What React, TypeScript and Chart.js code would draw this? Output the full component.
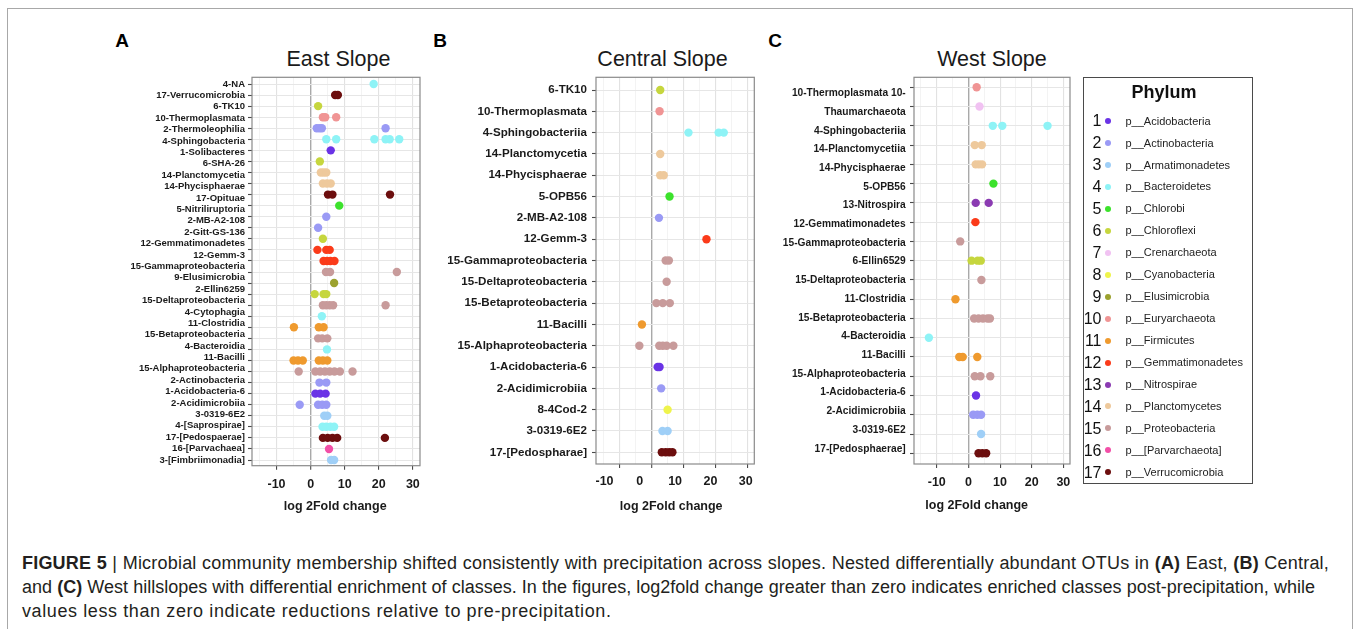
import React, { useEffect, useRef } from "react";
import { Chart, registerables } from "chart.js";

Chart.register(...registerables);

const FONT = '"Liberation Sans", Arial, Helvetica, sans-serif';
Chart.defaults.font.family = FONT;

// ---------------- DATA ----------------
const phylumNames = [
  "p__Acidobacteria", "p__Actinobacteria", "p__Armatimonadetes", "p__Bacteroidetes",
  "p__Chlorobi", "p__Chloroflexi", "p__Crenarchaeota", "p__Cyanobacteria",
  "p__Elusimicrobia", "p__Euryarchaeota", "p__Firmicutes", "p__Gemmatimonadetes",
  "p__Nitrospirae", "p__Planctomycetes", "p__Proteobacteria", "p__[Parvarchaeota]",
  "p__Verrucomicrobia",
];
const phylumColors = [
  "#6a33e6", "#9a9af5", "#9fcff7", "#8ef3f6", "#3ce22c", "#c6d63e", "#f1c2f2",
  "#eff44c", "#9ca22f", "#f09494", "#ef9a2e", "#fb3b1a", "#8b3bb2", "#eec99c",
  "#c89b9b", "#f24fa7", "#6c0e0e",
];

const xTickLabels = [-10, 0, 10, 20, 30];
const xGridValues = [-15, -10, -5, 0, 5, 10, 15, 20, 25, 30];

// East slope: 34 printed labels, 35 dot rows (one row has no printed label)
const eastLabels = [
  "4-NA", "17-Verrucomicrobia", "6-TK10", "10-Thermoplasmata", "2-Thermoleophilia",
  "4-Sphingobacteria", "1-Solibacteres", "6-SHA-26", "14-Planctomycetia", "14-Phycisphaerae",
  "17-Opituae", "5-Nitriliruptoria", "2-MB-A2-108", "2-Gitt-GS-136", "12-Gemmatimonadetes",
  "12-Gemm-3", "15-Gammaproteobacteria", "9-Elusimicrobia", "2-Ellin6259", "15-Deltaproteobacteria",
  "4-Cytophagia", "11-Clostridia", "15-Betaproteobacteria", "4-Bacteroidia", "11-Bacilli",
  "15-Alphaproteobacteria", "2-Actinobacteria", "1-Acidobacteria-6", "2-Acidimicrobiia", "3-0319-6E2",
  "4-[Saprospirae]", "17-[Pedospaerae]", "16-[Parvachaea]", "3-[Fimbriimonadia]",
];
const eastRowPhylum = [
  4, 17, 6, 10, 2, 4, 1, 6, 14, 14, 17, 5, 2, 2, 6, 12, 12, 15, 9, 6,
  15, 4, 11, 15, 4, 11, 15, 2, 1, 2, 3, 4, 17, 16, 3,
];
const eastRowValues = [
  [18.5], [7.2, 8.0], [2.2], [3.6, 4.3, 7.5], [1.8, 2.6, 3.3, 22.0],
  [4.6, 7.5, 18.7, 22.0, 23.2, 26.0], [5.9], [2.7], [3.0, 3.8, 4.6], [3.6, 4.8, 5.9],
  [5.1, 6.4, 23.3], [8.4], [4.6], [2.2], [3.6],
  [2.0, 4.6, 5.6], [3.8, 4.8, 5.8, 7.0], [4.5, 5.7, 25.3], [6.9], [1.2, 3.8, 4.6],
  [3.6, 4.6, 5.6, 6.6, 22.0], [3.3], [-4.9, 2.4, 3.8], [2.2, 3.4, 4.9], [4.8],
  [-5.0, -3.7, -2.3, 2.4, 3.6, 4.9], [-3.5, 1.4, 2.8, 4.2, 5.6, 7.0, 8.6, 12.3], [2.6, 4.6],
  [1.4, 2.8, 4.4], [-3.2, 2.2, 3.4, 4.6], [4.0, 4.9], [3.5, 4.6, 5.8, 6.9],
  [3.6, 5.0, 6.4, 7.8, 21.8], [5.4], [6.0, 6.9],
];

const centralLabels = [
  "6-TK10", "10-Thermoplasmata", "4-Sphingobacteriia", "14-Planctomycetia", "14-Phycisphaerae",
  "5-OPB56", "2-MB-A2-108", "12-Gemm-3", "15-Gammaproteobacteria", "15-Deltaproteobacteria",
  "15-Betaproteobacteria", "11-Bacilli", "15-Alphaproteobacteria", "1-Acidobacteria-6",
  "2-Acidimicrobiia", "8-4Cod-2", "3-0319-6E2", "17-[Pedospharae]",
];
const centralRowPhylum = [6, 10, 4, 14, 14, 5, 2, 12, 15, 15, 15, 11, 15, 1, 2, 8, 3, 17];
const centralRowValues = [
  [2.8], [2.6], [11.6, 21.0, 22.6], [2.8], [2.8, 3.9], [5.7], [2.4], [17.2], [4.5, 5.5],
  [4.8], [1.6, 3.6, 5.8], [-2.9], [-3.7, 2.5, 3.6, 4.8, 6.9], [2.0, 2.6], [3.1], [5.1],
  [3.5, 5.1], [3.3, 4.5, 5.6, 6.6],
];

const westLabels = [
  "10-Thermoplasmata 10-", "Thaumarchaeota", "4-Sphingobacteriia", "14-Planctomycetiia",
  "14-Phycisphaerae", "5-OPB56", "13-Nitrospira", "12-Gemmatimonadetes", "15-Gammaproteobacteria",
  "6-Ellin6529", "15-Deltaproteobacteria", "11-Clostridia", "15-Betaproteobacteria",
  "4-Bacteroidia", "11-Bacilli", "15-Alphaproteobacteria", "1-Acidobacteria-6",
  "2-Acidimicrobiia", "3-0319-6E2", "17-[Pedosphaerae]",
];
const westRowPhylum = [10, 7, 4, 14, 14, 5, 13, 12, 15, 6, 15, 11, 15, 4, 11, 15, 1, 2, 3, 17];
const westRowValues = [
  [2.6], [3.5], [7.7, 10.7, 25.0], [2.0, 4.2], [2.3, 3.3, 4.3], [7.9], [2.3, 6.4], [2.2],
  [-2.6], [1.0, 2.9, 3.9], [4.1], [-4.1], [1.8, 3.2, 4.6, 6.0, 6.8], [-12.5],
  [-2.9, -1.8, 2.8], [2.0, 3.8, 6.9], [2.4], [1.5, 2.8, 4.0], [4.0], [3.2, 4.4, 5.6],
];

// ---------------- LAYOUT ----------------
const X_MIN = -17.2;
const X_MAX = 32.1;
const CANVAS_TOP = 60;
const X_AXIS_H = 30;

type PanelLayout = {
  left: number; right: number; top: number; bottom: number;
  dotFirst: number; dotLast: number; labFirst: number; labLast: number;
  labelWidth: number; labelFont: number; labelPad: number; tickPad: number;
  tickZero?: number; tickUnit?: number;
};

function rowRange(n: number, first: number, last: number, top: number, bottom: number) {
  const s = (last - first) / (n - 1);
  return { min: -(first - top) / s, max: n - 1 + (bottom - last) / s };
}

const framePlugin = {
  id: "frame",
  afterDraw(chart: any) {
    const { ctx, chartArea } = chart;
    const { left, top, right, bottom } = chartArea;
    ctx.save();
    ctx.strokeStyle = "#8a8a8a";
    ctx.lineWidth = 1.2;
    ctx.strokeRect(left, top, right - left, bottom - top);
    ctx.restore();
  },
};

function Panel(props: {
  labels: string[]; phylum: number[]; values: number[][]; layout: PanelLayout;
}) {
  const ref = useRef<HTMLCanvasElement | null>(null);
  const L = props.layout;
  const canvasLeft = L.left - L.labelWidth - 4;
  const padRight = 10;
  const padBottom = 2;
  const width = Math.round(L.right + padRight - canvasLeft);
  const height = Math.round(L.bottom + 4 + X_AXIS_H + padBottom - CANVAS_TOP);

  useEffect(() => {
    if (!ref.current) return;
    const { labels, phylum, values } = props;
    const pts: { x: number; y: number }[] = [];
    const cols: string[] = [];
    values.forEach((arr, i) => {
      arr.forEach((v) => {
        pts.push({ x: v, y: i });
        cols.push(phylumColors[phylum[i] - 1]);
      });
    });
    const dotR = rowRange(values.length, L.dotFirst, L.dotLast, L.top, L.bottom);
    const labR = rowRange(labels.length, L.labFirst, L.labLast, L.top, L.bottom);
    const xl = L.tickZero !== undefined
      ? { min: (L.left - L.tickZero) / (L.tickUnit as number), max: (L.right - L.tickZero) / (L.tickUnit as number) }
      : { min: X_MIN, max: X_MAX };
    const padTop = L.top - CANVAS_TOP;
    const realPadRight = width - (L.right - canvasLeft);
    const realPadBottom = height - (L.bottom - CANVAS_TOP) - 4 - X_AXIS_H;

    const chart = new Chart(ref.current, {
      type: "scatter",
      data: {
        datasets: [
          {
            data: pts,
            pointRadius: 4.2,
            pointHoverRadius: 4.2,
            pointBorderWidth: 0,
            pointBackgroundColor: cols,
            backgroundColor: cols,
            borderWidth: 0,
            xAxisID: "x",
            yAxisID: "y",
          } as any,
        ],
      },
      options: {
        animation: false,
        responsive: false,
        maintainAspectRatio: false,
        devicePixelRatio: 1,
        events: [],
        layout: { padding: { top: padTop, left: 0, right: realPadRight, bottom: realPadBottom } },
        plugins: { legend: { display: false }, tooltip: { enabled: false }, title: { display: false } },
        scales: {
          x: {
            type: "linear", position: "bottom", min: X_MIN, max: X_MAX, bounds: "data", weight: 0,
            afterBuildTicks: (a: any) => { a.ticks = xGridValues.map((v) => ({ value: v })); },
            afterFit: (a: any) => { a.height = 4; },
            ticks: { display: false },
            border: { display: false },
            grid: {
              drawTicks: true, tickLength: 4,
              color: (c: any) => (c.tick.value === 0 ? "#a9a9a9" : c.tick.value % 10 === 0 ? "#e2e2e2" : "#eeeeee"),
              lineWidth: (c: any) => (c.tick.value === 0 ? 1.4 : c.tick.value % 10 === 0 ? 1.1 : 0.7),
              tickColor: (c: any) => (c.tick.value % 10 === 0 ? "#4a4a4a" : "rgba(0,0,0,0)"),
              tickWidth: 1.1,
            },
          },
          xL: {
            type: "linear", position: "bottom", min: xl.min, max: xl.max, bounds: "data", weight: 1,
            afterBuildTicks: (a: any) => { a.ticks = xTickLabels.map((v) => ({ value: v })); },
            afterFit: (a: any) => { a.height = X_AXIS_H; },
            grid: { display: false, drawTicks: false, tickLength: 0 },
            border: { display: false },
            ticks: {
              padding: L.tickPad, autoSkip: false, maxRotation: 0, minRotation: 0,
              color: "#1a1a1a", font: { size: 12.5, weight: "bold", family: FONT },
              callback: (v: any) => String(v),
            },
          },
          y: {
            type: "linear", position: "left", reverse: true, min: dotR.min, max: dotR.max, bounds: "data", weight: 0,
            afterBuildTicks: (a: any) => { a.ticks = values.map((_, i) => ({ value: i })); },
            afterFit: (a: any) => { a.width = 4; },
            ticks: { display: false },
            border: { display: false },
            grid: { drawTicks: true, tickLength: 4, color: "#e6e6e6", lineWidth: 1, tickColor: "#4a4a4a", tickWidth: 1.1 },
          },
          yL: {
            type: "linear", position: "left", reverse: true, min: labR.min, max: labR.max, bounds: "data", weight: 1,
            afterBuildTicks: (a: any) => { a.ticks = labels.map((_, i) => ({ value: i })); },
            afterFit: (a: any) => { a.width = L.labelWidth; },
            grid: { display: false, drawTicks: false, tickLength: 0 },
            border: { display: false },
            ticks: {
              padding: L.labelPad, autoSkip: false, color: "#1a1a1a",
              font: { size: L.labelFont, weight: "bold", family: FONT },
              callback: (v: any) => (labels[v as number] !== undefined ? labels[v as number] : ""),
            },
          },
        } as any,
      },
      plugins: [framePlugin],
    });
    return () => chart.destroy();
  }, []);

  return (
    <canvas
      ref={ref}
      width={width}
      height={height}
      style={{ position: "absolute", left: canvasLeft, top: CANVAS_TOP, width, height }}
    />
  );
}

function Txt(props: {
  x: number; baseline: number; size: number; bold?: boolean; align?: "left" | "center" | "right";
  color?: string; children: React.ReactNode;
}) {
  const align = props.align || "left";
  const top = props.baseline - 0.8465 * props.size;
  const W = 800;
  let left = props.x;
  if (align === "center") left = props.x - W / 2;
  if (align === "right") left = props.x - W;
  return (
    <div
      style={{
        position: "absolute", left, top, width: W, textAlign: align, whiteSpace: "nowrap",
        fontSize: props.size, lineHeight: 1, fontWeight: props.bold ? "bold" : "normal",
        color: props.color || "#1a1a1a", fontFamily: FONT,
      }}
    >
      {props.children}
    </div>
  );
}

function CaptionLine(props: {
  top: number; width?: number; spacing?: number; children: React.ReactNode;
}) {
  const justify = props.width !== undefined;
  return (
    <div
      style={{
        position: "absolute", left: 22, top: props.top, width: props.width, height: 24,
        whiteSpace: "nowrap", overflow: "visible", fontSize: 18, lineHeight: "24px",
        letterSpacing: props.spacing || 0,
        color: "#231f20", fontFamily: FONT,
        textAlign: justify ? "justify" : "left",
        textAlignLast: (justify ? "justify" : "left") as any,
      }}
    >
      {props.children}
    </div>
  );
}

const eastLayout: PanelLayout = {
  left: 252, right: 420, top: 77.3, bottom: 465.7,
  dotFirst: 84, dotLast: 460, labFirst: 84, labLast: 460,
  labelWidth: 128, labelFont: 9.5, labelPad: 3, tickPad: 7.1,
};
const centralLayout: PanelLayout = {
  left: 595.7, right: 754, top: 77.3, bottom: 464,
  dotFirst: 90, dotLast: 452.3, labFirst: 90, labLast: 452.3,
  labelWidth: 152, labelFont: 11.6, labelPad: 5, tickPad: 6.2,
  tickZero: 639.5, tickUnit: 3.53,
};
const westLayout: PanelLayout = {
  left: 914, right: 1070, top: 77.3, bottom: 464,
  dotFirst: 87.3, dotLast: 453.3, labFirst: 93.3, labLast: 448.7,
  labelWidth: 136, labelFont: 10.2, labelPad: 4.3, tickPad: 7.2,
};

export default function App() {
  const legendTop = 121;
  const legendStep = 21.96;
  return (
    <div
      style={{
        position: "absolute", left: 0, top: 0, width: 1354, height: 629, overflow: "hidden",
        background: "#ffffff", fontFamily: FONT,
      }}
    >
      <div
        style={{
          position: "absolute", left: 7, top: 8, width: 1346, height: 700, boxSizing: "border-box",
          borderTop: "1px solid #a8a8a8", borderLeft: "1px solid #a8a8a8", borderRight: "1px solid #a8a8a8",
        }}
      />
      <Txt x={122} baseline={47} size={19} bold align="center" color="#000">A</Txt>
      <Txt x={440} baseline={47} size={19} bold align="center" color="#000">B</Txt>
      <Txt x={775} baseline={47} size={19} bold align="center" color="#000">C</Txt>

      <Txt x={338.5} baseline={67.4} size={21.5} align="center">East Slope</Txt>
      <Txt x={662.5} baseline={67.4} size={21.5} align="center">Central Slope</Txt>
      <Txt x={992} baseline={67.4} size={21.5} align="center">West Slope</Txt>

      <Panel labels={eastLabels} phylum={eastRowPhylum} values={eastRowValues} layout={eastLayout} />
      <Panel labels={centralLabels} phylum={centralRowPhylum} values={centralRowValues} layout={centralLayout} />
      <Panel labels={westLabels} phylum={westRowPhylum} values={westRowValues} layout={westLayout} />

      <Txt x={335.2} baseline={510.7} size={12.5} bold align="center">log 2Fold change</Txt>
      <Txt x={671.2} baseline={510.7} size={12.5} bold align="center">log 2Fold change</Txt>
      <Txt x={976.7} baseline={509.5} size={12.5} bold align="center">log 2Fold change</Txt>

      <div
        style={{
          position: "absolute", left: 1082.5, top: 76.5, width: 170, height: 407, boxSizing: "border-box",
          border: "1.5px solid #4a4a4a",
        }}
      />
      <Txt x={1164} baseline={98} size={18} bold align="center" color="#111">Phylum</Txt>
      {phylumNames.map((name, i) => {
        const cy = legendTop + i * legendStep;
        return (
          <React.Fragment key={name}>
            <Txt x={1101.5} baseline={cy + 5.7} size={16} align="right" color="#111">{String(i + 1)}</Txt>
            <div
              style={{
                position: "absolute", left: 1105, top: cy - 3, width: 6, height: 6, borderRadius: 3,
                background: phylumColors[i],
              }}
            />
            <Txt x={1125.5} baseline={cy + 3.9} size={11} color="#222">{name}</Txt>
          </React.Fragment>
        );
      })}

      <CaptionLine top={551} width={1307} spacing={0.2}>
        <b>FIGURE 5</b> | Microbial community membership shifted consistently with precipitation across slopes. Nested differentially abundant OTUs in <b>(A)</b> East, <b>(B)</b> Central,
      </CaptionLine>
      <CaptionLine top={575} width={1293}>
        and <b>(C)</b> West hillslopes with differential enrichment of classes. In the figures, log2fold change greater than zero indicates enriched classes post-precipitation, while
      </CaptionLine>
      <CaptionLine top={599} spacing={0.6}>
        values less than zero indicate reductions relative to pre-precipitation.
      </CaptionLine>
    </div>
  );
}
